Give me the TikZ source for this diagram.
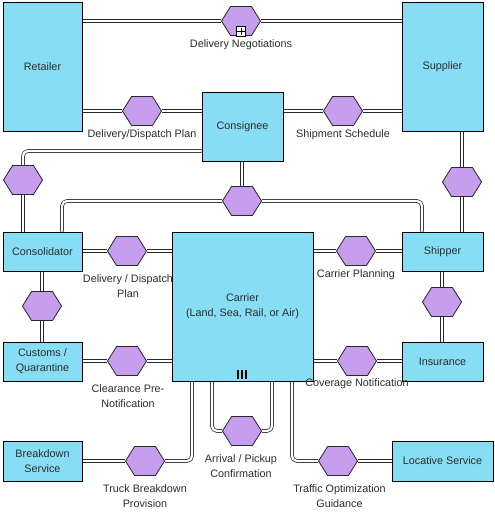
\documentclass[tikz,border=0pt]{standalone}
\usepackage{fontspec}
\setmainfont{Liberation Sans}
\usetikzlibrary{shapes.symbols,backgrounds,calc}
\definecolor{boxblue}{RGB}{135,221,243}
\definecolor{hexpurple}{RGB}{199,157,238}
\definecolor{txt}{RGB}{45,45,45}
\definecolor{linkgray}{RGB}{40,40,40}
\begin{document}
\begin{tikzpicture}[x=1pt,y=-1pt,
 part/.style={draw=black, fill=boxblue, line width=0.8pt, inner sep=0pt, text=txt, align=center, font=\fontsize{10.8}{15}\selectfont},
 conv/.style={shape=signal, signal to=west and east, signal pointer angle=116, draw=linkgray, fill=hexpurple, line width=0.8pt, minimum width=39pt, minimum height=29pt, inner sep=0pt},
 lbl/.style={text=txt, align=center, font=\fontsize{10.8}{15}\selectfont, inner sep=0pt},
 link/.style={draw=linkgray, line width=0.7pt, double=white, double distance=2.2pt},
 bent/.style={link, rounded corners=5pt}]
\useasboundingbox (0,0) rectangle (495,512);

% participants
\node[part, minimum width=79pt, minimum height=129pt] (retailer) at (42.5,66.5) {Retailer};
\node[part, minimum width=81pt, minimum height=129pt] (supplier) at (442.5,66.5) {Supplier};
\node[part, minimum width=81pt, minimum height=69pt] (consignee) at (242.5,126.5) {Consignee};
\node[part, minimum width=79pt, minimum height=39pt] (consolidator) at (42.5,251.5) {Consolidator};
\node[part, minimum width=81pt, minimum height=39pt] (shipper) at (442.5,251.5) {Shipper};
\node[part, minimum width=141pt, minimum height=149pt] (carrier) at (242.5,306.5) {Carrier\\(Land, Sea, Rail, or Air)};
\node[part, minimum width=79pt, minimum height=39pt] (customs) at (42.5,361.5) {Customs /\\Quarantine};
\node[part, minimum width=81pt, minimum height=39pt] (insurance) at (442.5,361.5) {Insurance};
\node[part, minimum width=79pt, minimum height=40pt] (breakdown) at (42.5,461) {Breakdown\\Service};
\node[part, minimum width=101pt, minimum height=40pt] (locative) at (442.5,461) {Locative Service};

% conversations
\node[conv] (dn) at (241,21) {};
\node[conv] (ddp1) at (142,111) {};
\node[conv] (ss) at (343,111) {};
\node[conv] (hcc) at (23,180) {};
\node[conv] (hcen) at (242,201) {};
\node[conv] (hsup) at (462,182) {};
\node[conv] (hshi) at (442,302) {};
\node[conv] (ddp2) at (127,251) {};
\node[conv] (hcus) at (42,306) {};
\node[conv] (clr) at (127,361) {};
\node[conv] (cpl) at (356,251) {};
\node[conv] (cov) at (357,361) {};
\node[conv] (tbp) at (145,461) {};
\node[conv] (arr) at (242,431) {};
\node[conv] (tog) at (338,461) {};

% sub-conversation marker
\node[draw=black, fill=white, line width=0.7pt, minimum size=9.5pt, inner sep=0pt, anchor=south] (plus) at ([yshift=-0.5pt]dn.south) {};
\draw[line width=0.8pt] ([yshift=-1.5pt]plus.north) -- ([yshift=1.5pt]plus.south)
  ([xshift=1.5pt]plus.west) -- ([xshift=-1.5pt]plus.east);

% multi-instance marker
\coordinate (mi) at (242,374);
\foreach \dx in {-3.6,0,3.6}
  \draw[line width=2pt, black] ($(mi)+(\dx,-4.5)$) -- ($(mi)+(\dx,4.5)$);

% labels
\node[lbl] (ldn) at (241,45) {Delivery Negotiations};
\node[lbl] (lddp1) at (142,135) {Delivery/Dispatch Plan};
\node[lbl] (lss) at (343,135) {Shipment Schedule};
\node[lbl] (lddp2) at (128,286.5) {Delivery / Dispatch\\Plan};
\node[lbl] (lcpl) at (356,275) {Carrier Planning};
\node[lbl] (lclr) at (128,396.5) {Clearance Pre-\\Notification};
\node[lbl] (lcov) at (357,384) {Coverage Notification};
\node[lbl] (ltbp) at (145,496.5) {Truck Breakdown\\Provision};
\node[lbl] (larr) at (241,466.5) {Arrival / Pickup\\Confirmation};
\node[lbl] (ltog) at (339.5,496.5) {Traffic Optimization\\Guidance};

% conversation links
\begin{pgfonlayer}{background}
\fill[white] (0,0) rectangle (495,512);
\draw[link] (dn.west) -- (dn.west -| retailer.east);
\draw[link] (dn.east) -- (dn.east -| supplier.west);
\draw[link] (ddp1.west) -- (ddp1.west -| retailer.east);
\draw[link] (ddp1.east) -- (ddp1.east -| consignee.west);
\draw[link] (ss.west) -- (ss.west -| consignee.east);
\draw[link] (ss.east) -- (ss.east -| supplier.west);
\draw[bent] (hcc.north) |- (consignee.west |- 0,151);
\draw[link] (hcc.south) -- (hcc.south |- consolidator.north);
\draw[link] (hcen.north) -- (hcen.north |- consignee.south);
\draw[bent] (hcen.west) -| (62,0 |- consolidator.north);
\draw[bent] (hcen.east) -| (422,0 |- shipper.north);
\draw[link] (hsup.north) -- (hsup.north |- supplier.south);
\draw[link] (hsup.south) -- (hsup.south |- shipper.north);
\draw[link] (hshi.north) -- (hshi.north |- shipper.south);
\draw[link] (hshi.south) -- (hshi.south |- insurance.north);
\draw[link] (ddp2.west) -- (ddp2.west -| consolidator.east);
\draw[link] (ddp2.east) -- (ddp2.east -| carrier.west);
\draw[link] (hcus.north) -- (hcus.north |- consolidator.south);
\draw[link] (hcus.south) -- (hcus.south |- customs.north);
\draw[link] (clr.west) -- (clr.west -| customs.east);
\draw[link] (clr.east) -- (clr.east -| carrier.west);
\draw[link] (cpl.west) -- (cpl.west -| carrier.east);
\draw[link] (cpl.east) -- (cpl.east -| shipper.west);
\draw[link] (cov.west) -- (cov.west -| carrier.east);
\draw[link] (cov.east) -- (cov.east -| insurance.west);
\draw[link] (tbp.west) -- (tbp.west -| breakdown.east);
\draw[bent] (tbp.east) -| (192,0 |- carrier.south);
\draw[bent] (arr.west) -| (212,0 |- carrier.south);
\draw[bent] (arr.east) -| (272,0 |- carrier.south);
\draw[bent] (tog.west) -| (292,0 |- carrier.south);
\draw[link] (tog.east) -- (tog.east -| locative.west);
\end{pgfonlayer}
\end{tikzpicture}
\end{document}
